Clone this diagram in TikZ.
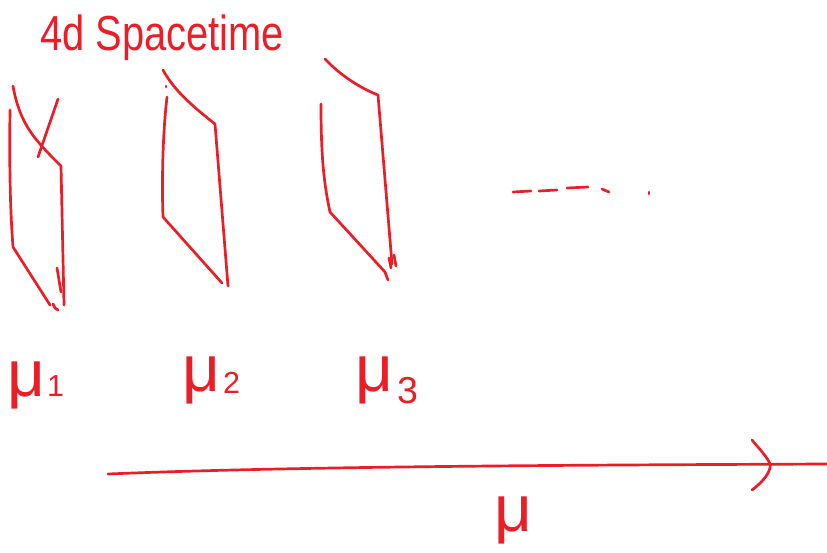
\documentclass[tikz,border=0pt]{standalone}
\usepackage{fontspec}
\setmainfont{Liberation Sans}
\definecolor{hred}{RGB}{235,30,40}
\begin{document}
\begin{tikzpicture}[x=0.03cm,y=-0.03cm,
  pen/.style={draw=hred, line width=2.3pt, line cap=round, line join=round},
  lbl/.style={text=hred, inner sep=0pt},
  mulbl/.style={lbl, font=\fontsize{56}{56}\selectfont},
  sub/.style={lbl, font=\fontsize{26}{26}\selectfont}]
\useasboundingbox (0,0) rectangle (827,553);
% title
\node[lbl, anchor=base west, font=\fontsize{42}{42}\selectfont] (title) at (40,50) {\scalebox{0.81}[1]{4d Spacetime}};
% sheet 1
\draw[pen] (10,110) .. controls (9,180) and (11,220) .. (13,247) -- (50,305);
\draw[pen] (13,86) .. controls (20,125) and (35,140) .. (61,166) -- (64,305);
\draw[pen] (58,99) -- (38,157);
\draw[pen] (57,268) -- (61,292);
\draw[pen] (53,304) -- (55,308) -- (58,310);
% sheet 2
\draw[pen] (163,70) .. controls (175,92) and (195,108) .. (215,124) -- (228,286);
\draw[pen] (167,97) .. controls (162,140) and (162,190) .. (163,217) -- (222,283);
\draw[pen] (166,86) -- (166,87);
% sheet 3
\draw[pen] (325,59) .. controls (340,75) and (360,88) .. (378,95) -- (392,264);
\draw[pen] (321,104) .. controls (321,150) and (323,180) .. (330,212) -- (385,272) -- (388,280);
\draw[pen] (389,258) -- (391,268);
\draw[pen] (394,255) -- (396,266);
% dots
\draw[pen] (513,192) -- (531,191);
\draw[pen] (539,191) -- (557,190);
\draw[pen] (567,188) -- (588,187);
\draw[pen] (602,189) -- (609,192);
\draw[pen] (649,192) -- (649,194);
% labels
\node[mulbl, anchor=base west] (m1) at (7,396) {μ};
\node[sub, anchor=base west] (s1) at (47,396) {1};
\node[mulbl, anchor=base west] (m2) at (182,391) {μ};
\node[sub, anchor=base west] (s2) at (223,393) {2};
\node[mulbl, anchor=base west] (m3) at (355,391) {μ};
\node[lbl, font=\fontsize{32}{32}\selectfont, anchor=base west] (s3) at (397,403) {3};
% axis
\draw[pen] (108,474) .. controls (300,466) and (600,465) .. (827,464);
\draw[pen] (752,440) .. controls (762,452) and (772,462) .. (770,468) .. controls (768,476) and (760,484) .. (752,490);
\node[mulbl, anchor=base west] (mu) at (494,531) {μ};
\end{tikzpicture}
\end{document}
